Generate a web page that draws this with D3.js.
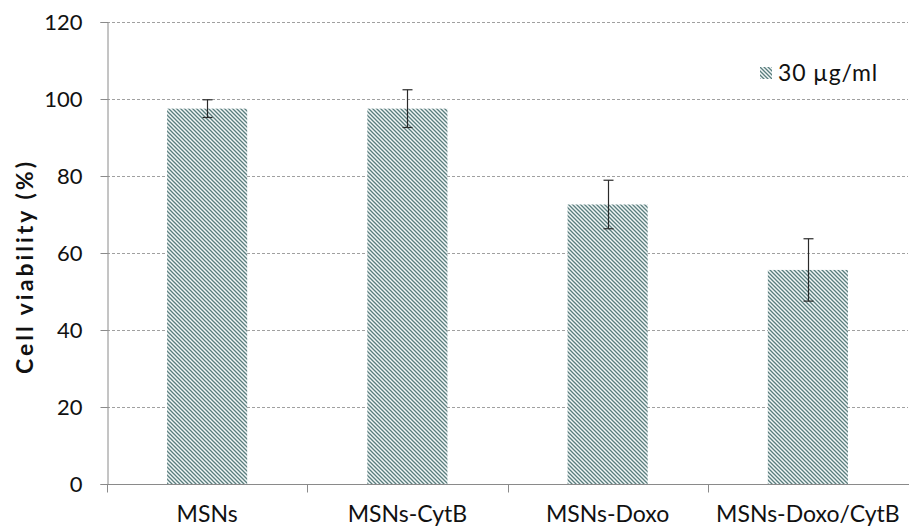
<!DOCTYPE html>
<html>
<head>
<meta charset="utf-8">
<script src="https://cdn.jsdelivr.net/npm/d3@7/dist/d3.min.js"></script>
<style>
  html, body { margin: 0; padding: 0; background: #fff; }
  svg { display: block; }
  text { font-family: Lato, "Open Sans", sans-serif; fill: #111; }
</style>
</head>
<body>
<svg id="chart" width="909" height="531"></svg>
<script>
// Cell viability after 30 µg/ml treatment
const categories = ["MSNs", "MSNs-CytB", "MSNs-Doxo", "MSNs-Doxo/CytB"];
const viability = [97.5, 97.5, 72.6, 55.6];
const errors = [2.3, 4.9, 6.3, 8.1];
const yTicks = [0, 20, 40, 60, 80, 100, 120];
const seriesName = "30 µg/ml";
const yTitle = "Cell viability (%)";

const svg = d3.select("#chart");
const margin = { left: 107, right: 1, top: 22, bottom: 47 };
const W = 909, H = 531;

const x = d3.scaleBand()
  .domain(categories)
  .range([margin.left, W - margin.right])
  .paddingInner(0.6)
  .paddingOuter(0.3);

const y = d3.scaleLinear()
  .domain([0, 120])
  .range([H - margin.bottom, margin.top]);

// hatched fill
const defs = svg.append("defs");
const pat = defs.append("pattern")
  .attr("id", "hatch")
  .attr("patternUnits", "userSpaceOnUse")
  .attr("width", 4).attr("height", 4);
pat.append("rect").attr("width", 4).attr("height", 4).attr("fill", "#f2f7f7");
pat.append("path")
  .attr("d", "M-1,-1 L5,5 M-1,3 L1,5 M3,-1 L5,1")
  .attr("stroke", "#5a7e7e")
  .attr("stroke-width", 1.3);

// horizontal gridlines
svg.append("g")
  .selectAll("line")
  .data(yTicks.filter(d => d > 0))
  .join("line")
  .attr("x1", margin.left).attr("x2", W - margin.right)
  .attr("y1", d => Math.round(y(d)) + 0.5).attr("y2", d => Math.round(y(d)) + 0.5)
  .attr("stroke", "#a0a0a0")
  .attr("stroke-width", 1)
  .attr("stroke-dasharray", "3,2");

// y axis
const yAxis = svg.append("g")
  .attr("transform", `translate(${margin.left + 0.5},0)`)
  .call(d3.axisLeft(y).tickValues(yTicks).tickSize(7).tickPadding(18));
yAxis.select(".domain").attr("stroke", "#8a8a8a");
yAxis.selectAll(".tick line").attr("stroke", "#8a8a8a");
yAxis.selectAll(".tick text")
  .attr("font-size", 22)
  .attr("font-family", "Lato, sans-serif")
  .attr("fill", "#111");

// x axis with ticks between categories
const baseY = Math.round(y(0)) + 0.5;
const xg = svg.append("g");
xg.append("line")
  .attr("x1", margin.left).attr("x2", W)
  .attr("y1", baseY).attr("y2", baseY)
  .attr("stroke", "#8a8a8a");
const boundaries = categories.map((c, i) => margin.left + i * (W - margin.right - margin.left) / categories.length);
xg.selectAll("line.tk")
  .data(boundaries)
  .join("line")
  .attr("class", "tk")
  .attr("x1", d => Math.round(d) + 0.5).attr("x2", d => Math.round(d) + 0.5)
  .attr("y1", baseY).attr("y2", baseY + 8)
  .attr("stroke", "#8a8a8a");
xg.selectAll("text")
  .data(categories)
  .join("text")
  .attr("x", d => x(d) + x.bandwidth() / 2)
  .attr("y", 522)
  .attr("text-anchor", "middle")
  .attr("font-size", 23)
  .text(d => d);

// bars
svg.append("g")
  .selectAll("rect")
  .data(categories)
  .join("rect")
  .attr("x", d => x(d))
  .attr("width", x.bandwidth())
  .attr("y", (d, i) => y(viability[i]))
  .attr("height", (d, i) => y(0) - y(viability[i]))
  .attr("fill", "url(#hatch)");

// error bars
const eg = svg.append("g").attr("stroke", "#2a2a2a").attr("stroke-width", 1.2);
categories.forEach((c, i) => {
  const cx = Math.round(x(c) + x.bandwidth() / 2) + 0.5;
  const top = y(viability[i] + errors[i]);
  const bot = y(viability[i] - errors[i]);
  eg.append("line").attr("x1", cx).attr("x2", cx).attr("y1", top).attr("y2", bot);
  eg.append("line").attr("x1", cx - 5).attr("x2", cx + 5).attr("y1", top).attr("y2", top);
  eg.append("line").attr("x1", cx - 5).attr("x2", cx + 5).attr("y1", bot).attr("y2", bot);
});

// y title
svg.append("text")
  .attr("transform", "translate(33,268) rotate(-90)")
  .attr("text-anchor", "middle")
  .attr("font-size", 23)
  .attr("font-weight", "bold")
  .attr("textLength", 212)
  .attr("lengthAdjust", "spacing")
  .text(yTitle);

// legend
const lg = svg.append("g").attr("transform", "translate(760,67)");
lg.append("rect").attr("width", 12).attr("height", 12).attr("fill", "url(#hatch)");
lg.append("text").attr("x", 18).attr("y", 14).attr("font-size", 23)
  .attr("letter-spacing", 0.8).text(seriesName);
</script>
</body>
</html>
